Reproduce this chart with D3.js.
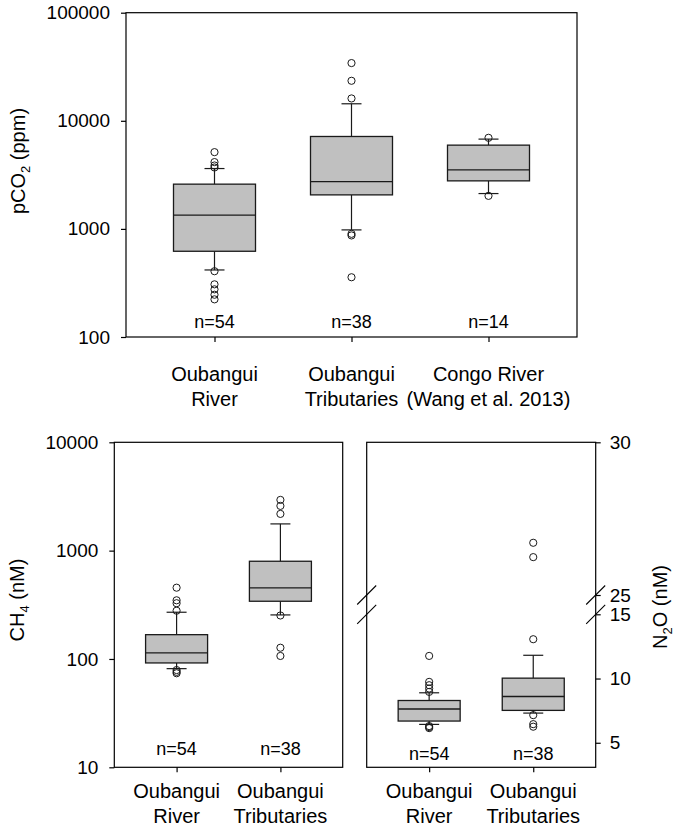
<!DOCTYPE html>
<html>
<head>
<meta charset="utf-8">
<script src="https://cdn.jsdelivr.net/npm/d3@7"></script>
<style>
  html, body { margin: 0; padding: 0; background: #fff; }
  svg { display: block; font-family: "Liberation Sans", Arial, Helvetica, sans-serif; }
</style>
</head>
<body>
<svg id="chart" width="675" height="828"></svg>
<script>
// ---------- DATA ----------
// pCO2 panel
const co2Categories = ["Oubangui\nRiver", "Oubangui\nTributaries", "Congo River\n(Wang et al. 2013)"];
const co2Q1 = [621, 2064, 2782];
const co2Median = [1340, 2742, 3518];
const co2Q3 = [2594, 7160, 5955];
const co2WhiskerLow = [417, 979, 2123];
const co2WhiskerHigh = [3617, 14370, 6770];
const co2Outliers = [
  [5130, 4150, 3860, 3700, 406, 307, 276, 246, 223],
  [34200, 23450, 16100, 900, 870, 357],
  [6960, 2021]
];
const co2N = ["n=54", "n=38", "n=14"];
const co2Ticks = [100, 1000, 10000, 100000];

// CH4 panel
const gasCategories = ["Oubangui\nRiver", "Oubangui\nTributaries"];
const ch4Q1 = [91.9, 341];
const ch4Median = [113.6, 453];
const ch4Q3 = [167.6, 798];
const ch4WhiskerLow = [81.4, 255];
const ch4WhiskerHigh = [270, 1765];
const ch4Outliers = [
  [455, 348, 327, 279, 79, 76, 73.8],
  [2940, 2588, 2183, 252, 127, 106.6]
];
const ch4N = ["n=54", "n=38"];
const ch4Ticks = [10, 100, 1000, 10000];

// N2O panel (broken axis 15 -> 25)
const n2oQ1 = [6.69, 7.52];
const n2oMedian = [7.63, 8.6];
const n2oQ3 = [8.29, 10.03];
const n2oWhiskerLow = [6.43, 7.31];
const n2oWhiskerHigh = [8.89, 11.81];
const n2oOutliers = [
  [11.76, 9.74, 9.48, 9.22, 8.96, 6.30, 6.22, 6.14],
  [26.71, 26.24, 13.06, 7.15, 6.45, 6.25]
];
const n2oN = ["n=54", "n=38"];
const n2oTicks = [5, 10, 15, 25, 30];
const n2oBreak = [15, 25];

// ---------- DRAW ----------
const svg = d3.select("#chart");
const BOX_FILL = "#c0c0c0";
const INK = "#1a1a1a";

function drawBoxes(g, x, y, cats, q1, med, q3, wl, wh, outs, boxW, capW) {
  cats.forEach((c, i) => {
    const cx = x(c);
    // whiskers
    g.append("line").attr("x1", cx).attr("x2", cx).attr("y1", y(q3[i])).attr("y2", y(wh[i]))
      .attr("stroke", INK).attr("stroke-width", 1.2);
    g.append("line").attr("x1", cx).attr("x2", cx).attr("y1", y(q1[i])).attr("y2", y(wl[i]))
      .attr("stroke", INK).attr("stroke-width", 1.2);
    g.append("line").attr("x1", cx - capW / 2).attr("x2", cx + capW / 2).attr("y1", y(wh[i])).attr("y2", y(wh[i]))
      .attr("stroke", INK).attr("stroke-width", 1.2);
    g.append("line").attr("x1", cx - capW / 2).attr("x2", cx + capW / 2).attr("y1", y(wl[i])).attr("y2", y(wl[i]))
      .attr("stroke", INK).attr("stroke-width", 1.2);
    // box
    g.append("rect").attr("x", cx - boxW / 2).attr("width", boxW)
      .attr("y", y(q3[i])).attr("height", y(q1[i]) - y(q3[i]))
      .attr("fill", BOX_FILL).attr("stroke", INK).attr("stroke-width", 1.3);
    g.append("line").attr("x1", cx - boxW / 2).attr("x2", cx + boxW / 2).attr("y1", y(med[i])).attr("y2", y(med[i]))
      .attr("stroke", INK).attr("stroke-width", 1.3);
    // outliers
    g.selectAll(null).data(outs[i]).enter().append("circle")
      .attr("cx", cx).attr("cy", d => y(d)).attr("r", 3.6)
      .attr("fill", "none").attr("stroke", INK).attr("stroke-width", 1);
  });
}

function frame(g, x0, x1, y0, y1) {
  g.append("rect").attr("x", x0).attr("y", y0).attr("width", x1 - x0).attr("height", y1 - y0)
    .attr("fill", "none").attr("stroke", "#000").attr("stroke-width", 1.2);
}

function styleAxis(a, fs) {
  a.select(".domain").remove();
  a.selectAll(".tick line").attr("stroke", "#000").attr("stroke-width", 1.2);
  a.selectAll(".tick text").attr("font-size", fs).attr("fill", "#000")
    .attr("font-family", "'Liberation Sans', Arial, sans-serif");
}

function catLabels(g, x, cats, baseY) {
  cats.forEach(c => {
    const lines = c.split("\n");
    const t = g.append("text").attr("text-anchor", "middle").attr("font-size", 20).attr("fill", "#000");
    lines.forEach((l, k) => {
      t.append("tspan").attr("x", x(c)).attr("y", baseY + k * 25).text(l);
    });
  });
}

function nLabels(g, x, cats, labels, baseY) {
  cats.forEach((c, i) => {
    g.append("text").attr("x", x(c)).attr("y", baseY).attr("text-anchor", "middle")
      .attr("font-size", 18).attr("fill", "#000").text(labels[i]);
  });
}

function yTitle(g, xPos, yPos, main, sub, rest) {
  const t = g.append("text").attr("transform", `translate(${xPos},${yPos}) rotate(-90)`)
    .attr("text-anchor", "middle").attr("font-size", 20).attr("fill", "#000");
  t.append("tspan").text(main);
  t.append("tspan").attr("font-size", 13).attr("dy", 5).text(sub);
  t.append("tspan").attr("dy", -5).text(rest);
}

// ---- Top panel: pCO2 ----
{
  const L = 126, R = 577, T = 12.7, B = 337;
  const x = d3.scalePoint().domain(co2Categories).range([L, R]).padding(0.646);
  const y = d3.scaleLog().domain([100, 100000]).range([B, T]);
  const g = svg.append("g");
  drawBoxes(g, x, y, co2Categories, co2Q1, co2Median, co2Q3, co2WhiskerLow, co2WhiskerHigh, co2Outliers, 82, 20);
  frame(g, L, R, T, B);
  const ay = g.append("g").attr("transform", `translate(${L},0)`)
    .call(d3.axisLeft(y).tickValues(co2Ticks).tickFormat(d3.format("d")).tickSize(5).tickPadding(11));
  styleAxis(ay, 19);
  const ax = g.append("g").attr("transform", `translate(0,${B})`)
    .call(d3.axisBottom(x).tickSize(5).tickFormat(""));
  styleAxis(ax, 19);
  nLabels(g, x, co2Categories, co2N, 328);
  catLabels(g, x, co2Categories, 381);
  yTitle(g, 25, 161, "pCO", "2", " (ppm)");
}

// ---- Bottom left: CH4 ----
{
  const L = 114.3, R = 342.7, T = 442.3, B = 767.3;
  const x = d3.scalePoint().domain(gasCategories).range([L, R]).padding(0.6);
  const y = d3.scaleLog().domain([10, 10000]).range([B, T]);
  const g = svg.append("g");
  drawBoxes(g, x, y, gasCategories, ch4Q1, ch4Median, ch4Q3, ch4WhiskerLow, ch4WhiskerHigh, ch4Outliers, 62, 20);
  frame(g, L, R, T, B);
  const ay = g.append("g").attr("transform", `translate(${L},0)`)
    .call(d3.axisLeft(y).tickValues(ch4Ticks).tickFormat(d3.format("d")).tickSize(5).tickPadding(11));
  styleAxis(ay, 19);
  const ax = g.append("g").attr("transform", `translate(0,${B})`)
    .call(d3.axisBottom(x).tickSize(5).tickFormat(""));
  styleAxis(ax, 19);
  nLabels(g, x, gasCategories, ch4N, 755);
  catLabels(g, x, gasCategories, 798);
  yTitle(g, 24, 600, "CH", "4", " (nM)");
}

// ---- Bottom right: N2O (broken axis) ----
{
  const L = 366.7, R = 595.7, T = 442.3, B = 767.3;
  const x = d3.scalePoint().domain(gasCategories).range([L, R]).padding(0.6);
  // piecewise linear scale with axis break between 15 and 25
  const y = d3.scaleLinear().domain([3.09, 15, 25, 30]).range([B, 614.3, 595, T]);
  const g = svg.append("g");
  drawBoxes(g, x, y, gasCategories, n2oQ1, n2oMedian, n2oQ3, n2oWhiskerLow, n2oWhiskerHigh, n2oOutliers, 62, 20);
  frame(g, L, R, T, B);
  const ay = g.append("g").attr("transform", `translate(${R},0)`)
    .call(d3.axisRight(y).tickValues(n2oTicks).tickFormat(d3.format("d")).tickSize(5).tickPadding(9));
  styleAxis(ay, 19);
  const ax = g.append("g").attr("transform", `translate(0,${B})`)
    .call(d3.axisBottom(x).tickSize(5).tickFormat(""));
  styleAxis(ax, 19);
  // break marks on both frame edges
  [L, R].forEach(xe => {
    n2oBreak.forEach(v => {
      const yy = y(v);
      g.append("line").attr("x1", xe - 9.5).attr("y1", yy + 9.5).attr("x2", xe + 9.5).attr("y2", yy - 9.5)
        .attr("stroke", "#000").attr("stroke-width", 1.1);
    });
  });
  nLabels(g, x, gasCategories, n2oN, 760);
  catLabels(g, x, gasCategories, 798);
  yTitle(g, 667, 607, "N", "2", "O (nM)");
}
</script>
</body>
</html>
